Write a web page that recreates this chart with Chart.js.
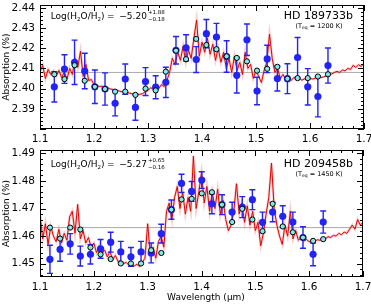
<!DOCTYPE html>
<html><head><meta charset="utf-8">
<script src="https://cdn.jsdelivr.net/npm/chart.js@4.4.1/dist/chart.umd.min.js"></script>
<style>
html,body{margin:0;padding:0;background:#fff;}
#wrap{position:relative;width:371px;height:306px;overflow:hidden;}
canvas{position:absolute;left:0;}
#c1{top:0;} #c2{top:145px;}
</style></head><body>
<div id="wrap"><canvas id="c1" width="371" height="145"></canvas><canvas id="c2" width="371" height="161"></canvas></div>
<script>
// ---------- axis tick labels ----------
const xTickLabels = [1.1, 1.2, 1.3, 1.4, 1.5, 1.6, 1.7];
const yTicksTop = [2.39, 2.40, 2.41, 2.42, 2.43, 2.44];
const yTicksBottom = [1.45, 1.46, 1.47, 1.48, 1.49];

// ---------- HD 189733b (top panel) ----------
const binWlTop = [1.1265, 1.1453, 1.1640, 1.1828, 1.2016, 1.2204, 1.2391, 1.2579, 1.2767, 1.2954,
  1.3142, 1.3330, 1.3518, 1.3705, 1.3893, 1.4081, 1.4268, 1.4456, 1.4644, 1.4832,
  1.5019, 1.5207, 1.5395, 1.5582, 1.5770, 1.5958, 1.6146, 1.6333];
const dataTop = [2.4009, 2.4097, 2.4130, 2.4087, 2.4009, 2.3998, 2.3927, 2.4047, 2.3907, 2.4035,
  2.4007, 2.4031, 2.4190, 2.4202, 2.4144, 2.4272, 2.4255, 2.4159, 2.4066, 2.4242,
  2.3988, 2.4147, 2.4050, 2.4049, 2.4154, 2.4009, 2.3961, 2.4114];
const errTop = [0.0075, 0.0071, 0.0110, 0.0088, 0.0083, 0.0080, 0.0062, 0.0075, 0.0064, 0.0069,
  0.0057, 0.0075, 0.0068, 0.0065, 0.0064, 0.0070, 0.0068, 0.0078, 0.0088, 0.0078,
  0.0068, 0.0068, 0.0062, 0.0074, 0.0099, 0.0090, 0.0101, 0.0087];
const binModelTop = [2.4071, 2.4047, 2.4116, 2.4039, 2.4009, 2.3998, 2.3985, 2.3985, 2.3969, 2.4000,
  2.3991, 2.4084, 2.4188, 2.4146, 2.4246, 2.4216, 2.4195, 2.4160, 2.4152, 2.4135,
  2.4089, 2.4098, 2.4108, 2.4049, 2.4052, 2.4052, 2.4060, 2.4071];
const flatTop = 2.408;

// ---------- HD 209458b (bottom panel) ----------
const binWlBottom = [1.1185, 1.1373, 1.1561, 1.1749, 1.1937, 1.2125, 1.2313, 1.2501, 1.2689, 1.2877,
  1.3065, 1.3253, 1.3441, 1.3629, 1.3817, 1.4005, 1.4193, 1.4381, 1.4569, 1.4757,
  1.4945, 1.5133, 1.5321, 1.5509, 1.5697, 1.5885, 1.6073, 1.6261];
const dataBottom = [1.4516, 1.4552, 1.4572, 1.4528, 1.4534, 1.4554, 1.4578, 1.4543, 1.4525, 1.4543,
  1.4539, 1.4609, 1.4696, 1.4791, 1.4762, 1.4803, 1.4717, 1.4714, 1.4687, 1.4705,
  1.4732, 1.4650, 1.4687, 1.4672, 1.4651, 1.4595, 1.4534, 1.4651];
const errBottom = [0.0051, 0.0043, 0.0037, 0.0036, 0.0035, 0.0034, 0.0036, 0.0038, 0.0034, 0.0038,
  0.0036, 0.0034, 0.0035, 0.0033, 0.0036, 0.0030, 0.0036, 0.0036, 0.0036, 0.0038,
  0.0036, 0.0037, 0.0035, 0.0038, 0.0036, 0.0039, 0.0041, 0.0040];
const binModelBottom = [1.4631, 1.4591, 1.4631, 1.4624, 1.4559, 1.4534, 1.4517, 1.4501, 1.4501, 1.4501,
  1.4549, 1.4539, 1.4696, 1.4733, 1.4735, 1.4755, 1.4759, 1.4714, 1.4651, 1.4699,
  1.4660, 1.4618, 1.4717, 1.4635, 1.4614, 1.4595, 1.4583, 1.4589];
const flatBottom = 1.4631;

// ---------- full-resolution model spectra ----------
const modelWl = [
  1.100,1.105,1.110,1.115,1.120,1.125,1.130,1.135,1.140,1.145,
  1.150,1.155,1.160,1.165,1.170,1.175,1.180,1.185,1.190,1.195,
  1.200,1.205,1.210,1.215,1.220,1.225,1.230,1.235,1.240,1.245,
  1.250,1.255,1.260,1.265,1.270,1.275,1.280,1.285,1.290,1.295,
  1.300,1.305,1.310,1.315,1.320,1.325,1.330,1.335,1.340,1.345,
  1.350,1.355,1.360,1.365,1.370,1.375,1.380,1.385,1.390,1.395,
  1.400,1.405,1.410,1.415,1.420,1.425,1.430,1.435,1.440,1.445,
  1.450,1.455,1.460,1.465,1.470,1.475,1.480,1.485,1.490,1.495,
  1.500,1.505,1.510,1.515,1.520,1.525,1.530,1.535,1.540,1.545,
  1.550,1.555,1.560,1.565,1.570,1.575,1.580,1.585,1.590,1.595,
  1.600,1.605,1.610,1.615,1.620,1.625,1.630,1.635,1.640,1.645,
  1.650,1.655,1.660,1.665,1.670,1.675,1.680,1.685,1.690,1.695,
  1.700];
const modelTop = [
  2.4085,2.4115,2.4050,2.4095,2.4070,2.4088,2.4062,2.4090,2.4055,2.4082,
  2.4048,2.4100,2.4070,2.4150,2.4105,2.4185,2.4060,2.4120,2.4040,2.4045,
  2.4020,2.4015,2.4010,2.4012,2.4003,2.4005,2.3998,2.3996,2.3993,2.3990,
  2.3985,2.3983,2.3985,2.3978,2.3975,2.3972,2.3970,2.3972,2.3975,2.3985,
  2.3990,2.4005,2.3995,2.4015,2.4000,2.4020,2.4010,2.4040,2.4080,2.4150,
  2.4120,2.4180,2.4140,2.4210,2.4130,2.4190,2.4150,2.4250,2.4340,2.4160,
  2.4230,2.4180,2.4250,2.4170,2.4220,2.4140,2.4200,2.4130,2.4180,2.4100,
  2.4150,2.4080,2.4160,2.4090,2.4130,2.4070,2.4180,2.4100,2.4120,2.4050,
  2.4090,2.4060,2.4030,2.4090,2.4130,2.4270,2.4150,2.4080,2.4100,2.4050,
  2.4070,2.4045,2.4060,2.4040,2.4055,2.4045,2.4050,2.4042,2.4048,2.4045,
  2.4050,2.4047,2.4052,2.4050,2.4055,2.4058,2.4062,2.4068,2.4072,2.4080,
  2.4085,2.4080,2.4092,2.4088,2.4100,2.4095,2.4115,2.4105,2.4118,2.4110,
  2.4125];
const modelBottom = [
  1.4680,1.4590,1.4645,1.4570,1.4635,1.4600,1.4580,1.4625,1.4575,1.4610,
  1.4585,1.4670,1.4690,1.4610,1.4715,1.4590,1.4620,1.4575,1.4595,1.4560,
  1.4575,1.4540,1.4565,1.4535,1.4550,1.4525,1.4545,1.4515,1.4530,1.4508,
  1.4512,1.4500,1.4505,1.4495,1.4500,1.4492,1.4498,1.4490,1.4505,1.4520,
  1.4645,1.4530,1.4560,1.4520,1.4580,1.4600,1.4560,1.4690,1.4720,1.4660,
  1.4740,1.4780,1.4700,1.4760,1.4680,1.4740,1.4690,1.4890,1.4700,1.4760,
  1.4830,1.4720,1.4780,1.4690,1.4760,1.4700,1.4770,1.4680,1.4730,1.4660,
  1.4620,1.4640,1.4690,1.4790,1.4680,1.4720,1.4650,1.4710,1.4640,1.4690,
  1.4620,1.4650,1.4565,1.4610,1.4680,1.4740,1.4865,1.4700,1.4640,1.4600,
  1.4570,1.4640,1.4600,1.4690,1.4590,1.4620,1.4585,1.4595,1.4582,1.4588,
  1.4580,1.4585,1.4580,1.4587,1.4585,1.4592,1.4590,1.4598,1.4595,1.4603,
  1.4600,1.4610,1.4605,1.4615,1.4610,1.4625,1.4640,1.4625,1.4660,1.4640,
  1.4650];

// ---------- drawing helpers ----------
const FONT = 'DejaVu Sans';
function rich(ctx, x, y, parts) {
  ctx.textAlign = 'left'; ctx.textBaseline = 'alphabetic';
  for (const [t, size, dy] of parts) {
    ctx.font = size + 'px "' + FONT + '"';
    ctx.fillText(t, x, y + dy);
    x += ctx.measureText(t).width;
  }
}

const framePlugin = {
  id: 'frame',
  beforeDatasetDraw(chart, args) {
    const ds = chart.data.datasets[args.index];
    if (!ds.errors) return;
    const ctx = chart.ctx, xs = chart.scales.x, ys = chart.scales.y;
    ctx.save();
    ctx.strokeStyle = ds.pointBackgroundColor;
    ctx.lineWidth = 1.4;
    ds.data.forEach((p, i) => {
      const px = xs.getPixelForValue(p.x);
      const y1 = ys.getPixelForValue(p.y + ds.errors[i]);
      const y2 = ys.getPixelForValue(p.y - ds.errors[i]);
      ctx.beginPath();
      ctx.moveTo(px, y1); ctx.lineTo(px, y2);
      ctx.moveTo(px - 3, y1); ctx.lineTo(px + 3, y1);
      ctx.moveTo(px - 3, y2); ctx.lineTo(px + 3, y2);
      ctx.stroke();
    });
    ctx.restore();
  },
  afterDraw(chart, args, opts) {
    const ctx = chart.ctx, xs = chart.scales.x, ys = chart.scales.y;
    const {left, right, top, bottom} = chart.chartArea;
    ctx.save();
    ctx.strokeStyle = '#000'; ctx.lineWidth = 1;
    ctx.strokeRect(left + 0.5, top + 0.5, right - left - 1, bottom - top - 1);
    ctx.beginPath();
    // x ticks (major every 0.1, minor every 0.02), inward on bottom and top
    for (let k = 0; k <= 30; k++) {
      const v = xs.min + k * 0.02;
      const px = Math.round(xs.getPixelForValue(v)) + 0.5;
      const len = (k % 5 === 0) ? 6 : 3;
      ctx.moveTo(px, bottom); ctx.lineTo(px, bottom - len);
      ctx.moveTo(px, top); ctx.lineTo(px, top + len);
    }
    // y ticks (major every 0.01, minor every 0.002)
    const start = Math.ceil(ys.min / 0.002 - 1e-6);
    const end = Math.floor(ys.max / 0.002 + 1e-6);
    for (let k = start; k <= end; k++) {
      const v = k * 0.002;
      const py = Math.round(ys.getPixelForValue(v)) + 0.5;
      const len = (k % 5 === 0) ? 6 : 3;
      ctx.moveTo(left, py); ctx.lineTo(left + len, py);
      ctx.moveTo(right, py); ctx.lineTo(right - len, py);
    }
    ctx.stroke();

    ctx.fillStyle = '#000';
    // y axis title
    ctx.save();
    ctx.translate(opts.yTitle.x, (top + bottom) / 2);
    ctx.rotate(-Math.PI / 2);
    ctx.font = '9px "' + FONT + '"';
    ctx.textAlign = 'center'; ctx.textBaseline = 'alphabetic';
    ctx.fillText('Absorption (%)', 0, 0);
    ctx.restore();
    // x axis title
    if (opts.xTitle) {
      ctx.font = '9px "' + FONT + '"';
      ctx.textAlign = 'center'; ctx.textBaseline = 'alphabetic';
      ctx.fillText('Wavelength (\u03BCm)', opts.xTitle.x, opts.xTitle.y);
    }
    // abundance annotation
    const a = opts.abund;
    rich(ctx, a.x, a.y, [['Log(H', 9, 0], ['2', 5.5, 2], ['O/H', 9, 0], ['2', 5.5, 2], [')', 9, 0]]);
    rich(ctx, a.xEq, a.y, [['=', 9, 0]]);
    rich(ctx, a.xVal, a.y, [[a.val, 9, 0]]);
    rich(ctx, a.xSup, a.y - 4.5, [[a.plus, 5.5, 0]]);
    rich(ctx, a.xSup, a.y + 2, [[a.minus, 5.5, 0]]);
    // planet name
    ctx.font = '11px "' + FONT + '"';
    ctx.textAlign = 'right'; ctx.textBaseline = 'alphabetic';
    ctx.fillText(opts.planet.name, opts.planet.x, opts.planet.y);
    // equilibrium temperature
    const t = opts.planet;
    ctx.font = '6.5px "' + FONT + '"';
    const w1 = ctx.measureText('(T').width;
    ctx.font = '4.5px "' + FONT + '"';
    const w2 = ctx.measureText('eq').width;
    ctx.font = '6.5px "' + FONT + '"';
    const rest = ' = ' + t.teq + ' K)';
    const w3 = ctx.measureText(rest).width;
    const x0 = t.tx - (w1 + w2 + w3) / 2;
    rich(ctx, x0, t.ty, [['(T', 6.5, 0], ['eq', 4.5, 1.5], [rest, 6.5, 0]]);
    ctx.restore();
  }
};

function makeChart(id, cfg) {
  const pts = (xs, ys) => xs.map((x, i) => ({x: x, y: ys[i]}));
  return new Chart(document.getElementById(id), {
    type: 'scatter',
    data: {
      datasets: [
        {label: 'binned model', data: pts(cfg.binWl, cfg.binModel), showLine: false,
          pointRadius: 2.6, pointBackgroundColor: 'rgb(130,232,232)', pointBorderColor: '#000',
          pointBorderWidth: 1, order: 0},
        {label: 'data', data: pts(cfg.binWl, cfg.data), errors: cfg.err, showLine: false,
          pointRadius: 3.6, pointBackgroundColor: 'rgb(35,35,245)', pointBorderWidth: 0, order: 1},
        {label: 'model', data: pts(modelWl, cfg.model), showLine: true, borderColor: 'rgb(228,0,0)',
          borderWidth: 1, pointRadius: 0, order: 2},
        {label: 'model halo', data: pts(modelWl, cfg.model), showLine: true,
          borderColor: 'rgba(238,130,130,0.4)', borderWidth: 2.5, pointRadius: 0, order: 3},
        {label: 'flat', data: [{x: xTickLabels[0], y: cfg.flat}, {x: xTickLabels[xTickLabels.length - 1], y: cfg.flat}],
          showLine: true, borderColor: 'rgb(170,170,170)', borderWidth: 1, pointRadius: 0, order: 4}
      ]
    },
    options: {
      responsive: false, animation: false, devicePixelRatio: 1,
      layout: {padding: cfg.pad},
      plugins: {legend: {display: false}, tooltip: {enabled: false}, frame: cfg.frame},
      scales: {
        x: {
          type: 'linear', min: 1.1, max: 1.7,
          grid: {display: false, drawTicks: false}, border: {display: false},
          ticks: {font: {family: FONT, size: 10.5}, color: '#000', padding: cfg.xpad,
            maxRotation: 0, autoSkip: false, callback: v => v.toFixed(1)},
          afterBuildTicks: s => { s.ticks = xTickLabels.map(v => ({value: v})); },
          afterFit: s => { s.height = cfg.xh; s.paddingLeft = 0; s.paddingRight = 0; }
        },
        y: {
          type: 'linear', min: cfg.ymin, max: cfg.ymax,
          grid: {display: false, drawTicks: false}, border: {display: false},
          ticks: {font: {family: FONT, size: 10.5}, color: '#000', padding: 5,
            callback: v => v.toFixed(2)},
          afterBuildTicks: s => { s.ticks = cfg.yTicks.map(v => ({value: v})); },
          afterFit: s => { s.width = 40; s.paddingTop = 0; s.paddingBottom = 0; }
        }
      }
    },
    plugins: [framePlugin]
  });
}

makeChart('c1', {
  binWl: binWlTop, binModel: binModelTop, data: dataTop, err: errTop, model: modelTop, flat: flatTop,
  ymin: 2.38, ymax: 2.4414, yTicks: yTicksTop,
  pad: {left: 0, right: 7, top: 1, bottom: 0}, xh: 16, xpad: 4,
  frame: {
    yTitle: {x: 9},
    abund: {x: 50.7, y: 18.5, xEq: 107, xVal: 119.3, val: '\u22125.20', xSup: 148, plus: '+1.88', minus: '\u22120.18'},
    planet: {name: 'HD 189733b', x: 353, y: 19, teq: '1200', tx: 319, ty: 27.5}
  }
});
makeChart('c2', {
  binWl: binWlBottom, binModel: binModelBottom, data: dataBottom, err: errBottom, model: modelBottom, flat: flatBottom,
  ymin: 1.4452, ymax: 1.4912, yTicks: yTicksBottom,
  pad: {left: 0, right: 8, top: 4, bottom: 0}, xh: 29, xpad: 4,
  frame: {
    yTitle: {x: 9},
    xTitle: {x: 206, y: 155},
    abund: {x: 50.7, y: 21.5, xEq: 107, xVal: 119.3, val: '\u22125.27', xSup: 148, plus: '+0.65', minus: '\u22120.16'},
    planet: {name: 'HD 209458b', x: 353, y: 22, teq: '1450', tx: 319, ty: 30.5}
  }
});
</script>
</body></html>
